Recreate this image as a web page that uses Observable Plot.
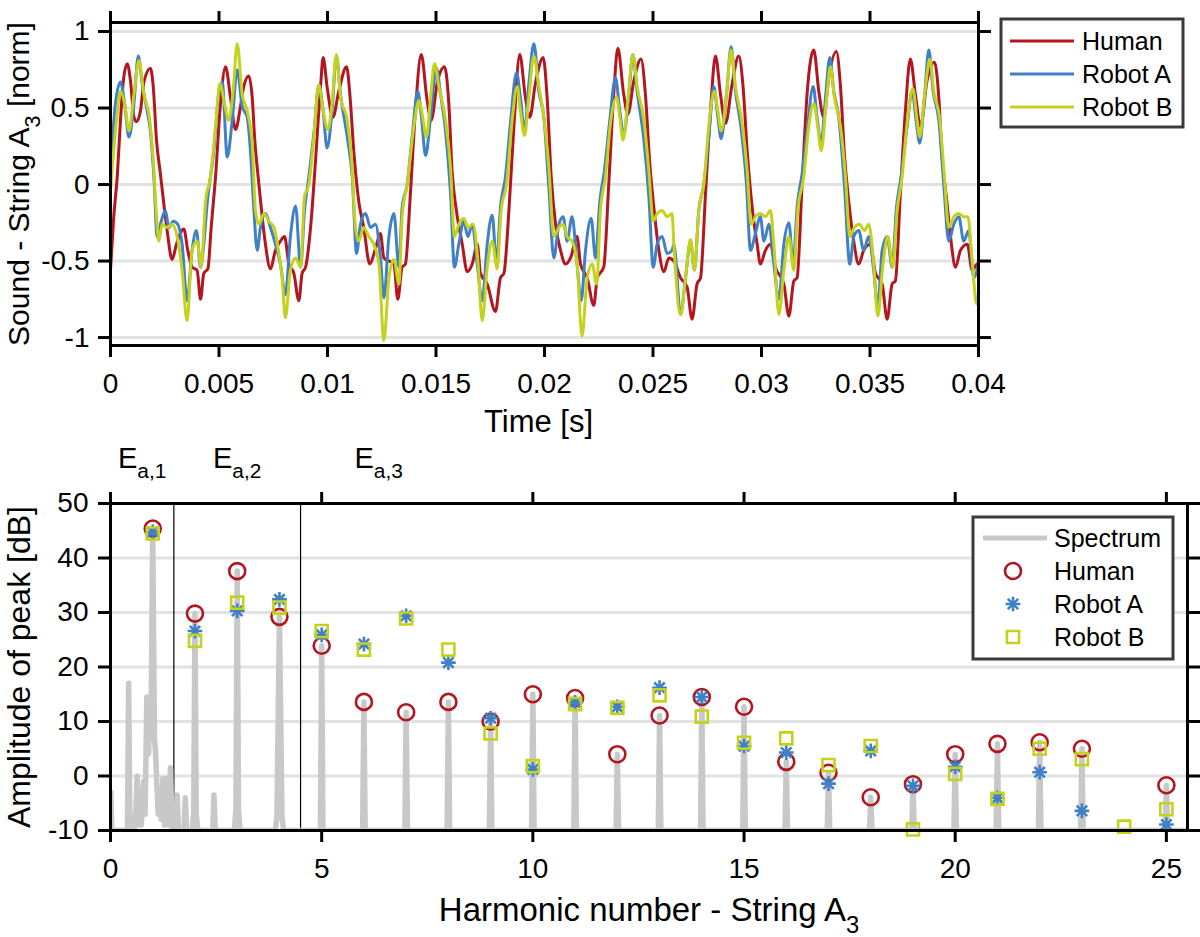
<!DOCTYPE html>
<html><head><meta charset="utf-8">
<script src="https://cdn.jsdelivr.net/npm/d3@7"></script>
<script src="https://cdn.jsdelivr.net/npm/@observablehq/plot@0.6"></script>
<style>
body{margin:0;background:#fff;font-family:"Liberation Sans",Arial,sans-serif;}
#wrap{position:relative;width:1200px;height:937px;overflow:hidden;background:#fff;}
#top,#bottom,#overlay{position:absolute;left:0;}
#top{top:0}
#bottom{top:440px}
#overlay{top:0;pointer-events:none}
</style></head>
<body><div id="wrap"><div id="top"></div><div id="bottom"></div><svg id="overlay" width="1200" height="937"></svg></div>
<script>
// ---------------- DATA ----------------
const seriesNames = ["Human", "Robot A", "Robot B"];

// Time-domain waveforms: [time in ms, normalised amplitude]
const humanWave = [[0,-0.56],[0.15,-0.21],[0.31,0.05],[0.46,0.42],[0.61,0.70],[0.77,0.79],[0.92,0.68],[1.08,0.44],[1.20,0.41],[1.38,0.48],[1.54,0.67],[1.84,0.76],[1.97,0.64],[2.12,0.29],[2.30,0.07],[2.46,-0.13],[2.61,-0.30],[2.84,-0.49],[3.04,-0.39],[3.38,-0.29],[3.56,-0.43],[3.76,-0.54],[3.99,-0.56],[4.15,-0.75],[4.30,-0.58],[4.49,-0.55],[4.64,-0.28],[4.84,0.05],[5.07,0.53],[5.30,0.77],[5.53,0.57],[5.76,0.36],[5.99,0.51],[6.14,0.64],[6.37,0.71],[6.53,0.57],[6.64,0.31],[6.84,0.00],[6.99,-0.21],[7.14,-0.39],[7.37,-0.55],[7.60,-0.43],[7.83,-0.37],[8.02,-0.34],[8.22,-0.52],[8.45,-0.58],[8.68,-0.76],[8.83,-0.58],[8.99,-0.54],[9.22,-0.28],[9.45,0.16],[9.68,0.64],[9.80,0.83],[9.98,0.64],[10.25,0.44],[10.52,0.61],[10.88,0.77],[11.03,0.59],[11.21,0.22],[11.44,-0.11],[11.67,-0.28],[11.95,-0.52],[12.21,-0.42],[12.44,-0.32],[12.60,-0.48],[13.06,-0.52],[13.24,-0.75],[13.44,-0.54],[13.59,-0.52],[13.82,-0.06],[14.05,0.48],[14.32,0.85],[14.59,0.55],[14.78,0.42],[15.05,0.66],[15.39,0.77],[15.59,0.53],[15.74,0.09],[15.94,-0.17],[16.21,-0.39],[16.44,-0.57],[16.67,-0.52],[16.90,-0.39],[17.05,-0.58],[17.36,-0.65],[17.74,-0.83],[17.97,-0.61],[18.13,-0.58],[18.36,-0.17],[18.59,0.38],[18.86,0.85],[19.12,0.57],[19.32,0.44],[19.58,0.66],[19.94,0.83],[20.12,0.57],[20.31,0.05],[20.51,-0.26],[20.74,-0.43],[20.97,-0.52],[21.20,-0.48],[21.50,-0.34],[21.66,-0.52],[21.97,-0.61],[22.27,-0.79],[22.43,-0.61],[22.73,-0.54],[22.96,0.00],[23.19,0.59],[23.38,0.89],[23.65,0.59],[23.84,0.46],[24.12,0.68],[24.45,0.82],[24.65,0.59],[24.85,0.14],[25.04,-0.15],[25.27,-0.43],[25.50,-0.57],[25.73,-0.48],[25.96,-0.50],[26.27,-0.61],[26.57,-0.67],[26.80,-0.88],[27.03,-0.65],[27.19,-0.61],[27.42,-0.06],[27.65,0.48],[27.88,0.84],[28.11,0.59],[28.34,0.40],[28.65,0.66],[28.95,0.84],[29.15,0.64],[29.34,0.22],[29.57,-0.15],[29.80,-0.39],[29.95,-0.52],[30.18,-0.43],[30.41,-0.39],[30.64,-0.54],[31.03,-0.65],[31.26,-0.86],[31.49,-0.63],[31.64,-0.61],[31.87,0.00],[32.10,0.59],[32.41,0.88],[32.64,0.61],[32.87,0.44],[33.10,0.70],[33.45,0.87],[33.64,0.64],[33.82,0.20],[34.02,-0.11],[34.25,-0.37],[34.48,-0.52],[34.71,-0.43],[35.02,-0.39],[35.25,-0.58],[35.56,-0.65],[35.79,-0.88],[36.02,-0.65],[36.17,-0.63],[36.40,-0.06],[36.63,0.48],[36.86,0.82],[37.09,0.59],[37.33,0.38],[37.63,0.68],[37.97,0.80],[38.17,0.57],[38.32,0.18],[38.52,-0.08],[38.71,-0.34],[38.94,-0.54],[39.17,-0.43],[39.48,-0.39],[39.71,-0.56],[39.94,-0.52],[40.00,-0.55]];

const robotAWave = [[0,0.11],[0.23,0.53],[0.46,0.67],[0.65,0.53],[0.85,0.31],[1.08,0.53],[1.28,0.84],[1.46,0.66],[1.69,0.48],[1.84,0.35],[2.00,0.05],[2.15,-0.34],[2.30,-0.26],[2.53,-0.17],[2.69,-0.28],[2.89,-0.24],[3.10,-0.26],[3.30,-0.39],[3.53,-0.76],[3.76,-0.43],[3.96,-0.30],[4.15,-0.54],[4.30,-0.39],[4.45,-0.13],[4.76,0.22],[4.99,0.59],[5.15,0.67],[5.38,0.18],[5.61,0.42],[5.84,0.75],[6.07,0.51],[6.30,0.44],[6.45,0.22],[6.61,-0.17],[6.76,-0.43],[6.91,-0.28],[7.14,-0.19],[7.37,-0.28],[7.60,-0.39],[7.83,-0.52],[8.06,-0.72],[8.29,-0.34],[8.53,-0.14],[8.76,-0.54],[8.94,-0.17],[9.14,0.05],[9.37,0.33],[9.60,0.65],[9.80,0.48],[9.98,0.24],[10.21,0.48],[10.41,0.84],[10.60,0.59],[10.91,0.31],[11.14,0.05],[11.34,-0.45],[11.52,-0.26],[11.75,-0.19],[11.98,-0.28],[12.21,-0.26],[12.44,-0.48],[12.60,-0.74],[12.83,-0.34],[13.06,-0.19],[13.29,-0.54],[13.44,-0.15],[13.67,0.00],[13.90,0.31],[14.16,0.61],[14.33,0.44],[14.52,0.19],[14.75,0.44],[15.02,0.76],[15.21,0.59],[15.44,0.35],[15.67,-0.06],[15.85,-0.54],[16.05,-0.39],[16.28,-0.24],[16.47,-0.34],[16.67,-0.26],[16.90,-0.52],[17.13,-0.76],[17.36,-0.39],[17.59,-0.20],[17.79,-0.52],[17.97,-0.15],[18.20,0.05],[18.43,0.40],[18.71,0.73],[18.89,0.57],[19.08,0.35],[19.28,0.66],[19.51,0.92],[19.74,0.61],[19.97,0.44],[20.20,-0.02],[20.43,-0.48],[20.66,-0.26],[20.86,-0.21],[21.04,-0.37],[21.27,-0.21],[21.50,-0.52],[21.69,-0.76],[21.89,-0.43],[22.15,-0.22],[22.35,-0.48],[22.55,-0.11],[22.76,0.09],[23.01,0.42],[23.27,0.70],[23.47,0.48],[23.65,0.33],[23.89,0.59],[24.07,0.85],[24.27,0.61],[24.58,0.29],[24.81,-0.08],[25.01,-0.54],[25.19,-0.39],[25.42,-0.34],[25.65,-0.45],[25.88,-0.43],[25.96,-0.39],[26.27,-0.85],[26.50,-0.61],[26.73,-0.37],[26.91,-0.56],[27.11,-0.17],[27.34,0.00],[27.57,0.31],[27.80,0.64],[27.99,0.44],[28.14,0.30],[28.39,0.59],[28.60,0.90],[28.80,0.61],[29.03,0.40],[29.31,0.00],[29.49,-0.43],[29.72,-0.32],[29.95,-0.21],[30.11,-0.37],[30.34,-0.26],[30.57,-0.52],[30.80,-0.75],[31.03,-0.39],[31.26,-0.25],[31.46,-0.52],[31.64,-0.15],[31.87,0.07],[32.10,0.35],[32.38,0.64],[32.56,0.44],[32.75,0.27],[32.95,0.57],[33.15,0.83],[33.33,0.61],[33.56,0.44],[33.82,0.00],[34.07,-0.52],[34.25,-0.34],[34.48,-0.30],[34.71,-0.43],[34.94,-0.34],[35.17,-0.56],[35.36,-0.80],[35.56,-0.43],[35.79,-0.34],[36.02,-0.54],[36.22,-0.15],[36.43,0.05],[36.71,0.38],[36.94,0.61],[37.14,0.40],[37.29,0.27],[37.52,0.59],[37.71,0.88],[37.91,0.61],[38.17,0.42],[38.40,0.00],[38.63,-0.37],[38.86,-0.26],[39.09,-0.21],[39.32,-0.37],[39.55,-0.30],[39.78,-0.61],[40.00,-0.52]];

const robotBWave = [[0,-0.04],[0.23,0.35],[0.46,0.61],[0.65,0.53],[0.85,0.35],[1.08,0.59],[1.31,0.81],[1.54,0.59],[1.81,0.42],[1.97,0.16],[2.12,-0.21],[2.23,-0.37],[2.38,-0.26],[2.61,-0.28],[2.84,-0.26],[3.07,-0.34],[3.30,-0.56],[3.53,-0.89],[3.76,-0.43],[3.99,-0.37],[4.18,-0.54],[4.38,-0.11],[4.61,0.05],[4.84,0.38],[5.04,0.66],[5.25,0.53],[5.45,0.42],[5.65,0.61],[5.84,0.92],[6.07,0.59],[6.30,0.48],[6.53,0.27],[6.68,-0.17],[6.84,-0.26],[7.07,-0.19],[7.30,-0.24],[7.53,-0.28],[7.76,-0.45],[7.91,-0.61],[8.06,-0.87],[8.29,-0.56],[8.53,-0.48],[8.76,-0.54],[8.94,-0.08],[9.14,0.00],[9.37,0.31],[9.60,0.65],[9.80,0.48],[10.02,0.36],[10.21,0.53],[10.41,0.85],[10.60,0.57],[10.91,0.42],[11.09,0.20],[11.29,-0.28],[11.44,-0.37],[11.67,-0.28],[11.90,-0.34],[12.13,-0.39],[12.37,-0.52],[12.60,-1.02],[12.83,-0.61],[13.06,-0.49],[13.29,-0.65],[13.44,-0.21],[13.67,0.00],[13.98,0.38],[14.21,0.55],[14.36,0.46],[14.56,0.31],[14.75,0.57],[14.93,0.79],[15.13,0.64],[15.44,0.42],[15.67,0.11],[15.85,-0.34],[16.05,-0.26],[16.28,-0.22],[16.47,-0.28],[16.71,-0.26],[16.93,-0.50],[17.13,-0.89],[17.36,-0.54],[17.59,-0.37],[17.82,-0.55],[18.00,-0.17],[18.25,0.00],[18.51,0.42],[18.74,0.64],[18.89,0.48],[19.08,0.32],[19.28,0.57],[19.51,0.84],[19.74,0.64],[19.97,0.44],[20.20,0.11],[20.43,-0.34],[20.66,-0.28],[20.86,-0.26],[21.04,-0.34],[21.27,-0.37],[21.50,-0.52],[21.73,-0.99],[21.97,-0.61],[22.20,-0.52],[22.40,-0.65],[22.58,-0.17],[22.81,0.05],[23.04,0.40],[23.32,0.57],[23.47,0.44],[23.62,0.29],[23.84,0.55],[24.08,0.85],[24.27,0.64],[24.58,0.42],[24.81,0.09],[25.01,-0.24],[25.19,-0.19],[25.42,-0.17],[25.65,-0.21],[25.88,-0.19],[25.96,-0.39],[26.27,-0.85],[26.50,-0.61],[26.73,-0.36],[26.91,-0.56],[27.11,-0.17],[27.34,0.00],[27.57,0.38],[27.83,0.61],[27.99,0.48],[28.14,0.35],[28.39,0.59],[28.60,0.88],[28.80,0.64],[29.11,0.40],[29.34,0.09],[29.52,-0.26],[29.72,-0.21],[29.95,-0.19],[30.18,-0.21],[30.41,-0.17],[30.57,-0.39],[30.80,-0.85],[31.03,-0.56],[31.26,-0.34],[31.49,-0.56],[31.67,-0.17],[31.95,0.05],[32.18,0.38],[32.41,0.53],[32.59,0.38],[32.75,0.22],[32.98,0.53],[33.18,0.77],[33.36,0.57],[33.64,0.38],[33.87,0.05],[34.07,-0.34],[34.28,-0.28],[34.51,-0.26],[34.74,-0.30],[34.94,-0.26],[35.17,-0.52],[35.36,-0.86],[35.60,-0.52],[35.82,-0.34],[36.05,-0.54],[36.25,-0.17],[36.48,0.05],[36.74,0.44],[36.97,0.63],[37.17,0.42],[37.29,0.31],[37.52,0.59],[37.76,0.82],[37.94,0.61],[38.22,0.42],[38.43,0.05],[38.63,-0.28],[38.86,-0.21],[39.09,-0.19],[39.32,-0.21],[39.51,-0.21],[39.71,-0.50],[39.91,-0.78],[40.00,-0.70]];

const timeTicks = [0, 0.005, 0.01, 0.015, 0.02, 0.025, 0.03, 0.035, 0.04];
const soundTicks = [-1, -0.5, 0, 0.5, 1];

// Spectrum (harmonic number, dB)
const spectrumLow = [[0,-10],[0.01,-3],[0.03,-10],[0.40,-10],[0.43,17],[0.46,-10],[0.56,-10],[0.60,-6],[0.63,0],[0.66,-9],[0.70,-5],[0.73,-9],[0.78,-1],[0.82,-7],[0.86,14.5],[0.90,4],[0.93,11],[0.96,8],[1.00,45],[1.04,7],[1.07,4],[1.10,-2],[1.13,-7],[1.16,-3],[1.20,-8],[1.24,-0.5],[1.28,-9],[1.32,-0.5],[1.36,-9],[1.42,1.5],[1.46,-10],[1.55,-10],[1.58,-3.5],[1.61,-10],[1.74,-10],[1.77,-4],[1.80,-10],[1.93,-10],[1.97,-7],[2.00,29.8],[2.03,-7],[2.07,-10],[2.42,-10],[2.45,-3.5],[2.48,-10],[2.93,-10],[2.97,-6],[3.00,37.6],[3.03,-6],[3.07,-10],[3.90,-10],[3.94,-7.5],[4.00,29.2],[4.06,-7.5],[4.10,-10]];
const spectrumHigh = [[4.97,-10],[5,23.9],[5.03,-10],[5.97,-10],[6,13.6],[6.03,-10],[6.97,-10],[7,11.7],[7.03,-10],[7.97,-10],[8,13.6],[8.03,-10],[8.97,-10],[9,10.0],[9.03,-10],[9.97,-10],[10,15.0],[10.03,-10],[10.97,-10],[11,14.3],[11.03,-10],[11.97,-10],[12,4.0],[12.03,-10],[12.97,-10],[13,11.1],[13.03,-10],[13.97,-10],[14,14.5],[14.03,-10],[14.97,-10],[15,12.7],[15.03,-10],[15.97,-10],[16,2.6],[16.03,-10],[16.97,-10],[17,0.6],[17.03,-10],[17.97,-10],[18,-3.9],[18.03,-10],[18.97,-10],[19,-1.5],[19.03,-10],[19.97,-10],[20,4.0],[20.03,-10],[20.97,-10],[21,5.9],[21.03,-10],[21.97,-10],[22,6.2],[22.03,-10],[22.97,-10],[23,5.0],[23.03,-10],[24.97,-10],[25,-1.7],[25.03,-10],[25.5,-10]];

const harmonics = [1,2,3,4,5,6,7,8,9,10,11,12,13,14,15,16,17,18,19,20,21,22,23,24,25];
const humanDb  = [45.4,29.8,37.6,29.2,23.9,13.6,11.7,13.6,10.0,15.0,14.3,4.0,11.1,14.5,12.7,2.6,0.6,-3.9,-1.5,4.0,5.9,6.2,5.0,null,-1.7];
const robotADb = [44.8,26.6,30.3,32.4,25.9,24.2,29.4,20.8,10.6,1.2,13.5,12.7,16.2,14.5,5.5,4.3,-1.4,4.6,-1.8,1.7,-4.0,0.7,-6.4,null,-8.9];
const robotBDb = [44.5,24.8,31.8,30.9,26.6,23.2,28.9,23.2,7.8,1.8,13.2,12.5,14.8,10.9,6.1,6.9,2.0,5.5,-9.8,0.4,-4.2,5.0,3.1,-9.3,-6.1];

const harmonicTicks = [0, 5, 10, 15, 20, 25];
const dbTicks = [-10, 0, 10, 20, 30, 40, 50];
const dbGrid = [0, 10, 20, 30, 40];
const regionBounds = [1.5, 4.5];
const regionLabels = ["E_{a,1}", "E_{a,2}", "E_{a,3}"];
const regionLabelX = [0.75, 3, 6.35];

// ---------------- STYLE ----------------
const RED = "#b3161e", BLUE = "#3f80c6", YEL = "#c5d21d", GREY = "#c8c8c8", GRID = "#e2e2e2";
const colors = [RED, BLUE, YEL];
const FONT = "'Liberation Sans', Arial, Helvetica, sans-serif";
const TICKFS = 28;
const R_CIRC = 8, R_STAR = 4.8, R_SQ = 6.8, MSW = 2.6;

const waveData = [humanWave, robotAWave, robotBWave].flatMap((w, k) =>
  w.map(([ms, v]) => ({t: ms / 1000, v, series: seriesNames[k]})));

const topPlot = Plot.plot({
  width: 1200, height: 440,
  marginTop: 22, marginBottom: 95, marginLeft: 110, marginRight: 222,
  style: {fontFamily: FONT, fontSize: TICKFS + "px", color: "black", background: "transparent", overflow: "visible"},
  x: {domain: [0, 0.04]},
  y: {domain: [-1.052, 1.059]},
  color: {domain: seriesNames, range: colors},
  marks: [
    Plot.gridY(soundTicks, {stroke: GRID, strokeOpacity: 1, strokeWidth: 3}),
    Plot.line(waveData, {x: "t", y: "v", z: "series", stroke: "series", strokeWidth: 3, curve: "monotone-x"}),
    Plot.frame({stroke: "black", strokeWidth: 3}),
    Plot.axisX(timeTicks, {anchor: "bottom", tickSize: 12, tickPadding: 16, strokeWidth: 3, fontSize: TICKFS, tickFormat: d => String(d), label: null}),
    Plot.axisX(timeTicks, {anchor: "top", tickSize: 12, strokeWidth: 3, tickFormat: () => "", label: null}),
    Plot.axisY(soundTicks, {anchor: "left", tickSize: 12, tickPadding: 9, strokeWidth: 3, fontSize: TICKFS, tickFormat: d => String(d), label: null}),
    Plot.axisY(soundTicks, {anchor: "right", tickSize: 12, strokeWidth: 3, tickFormat: () => "", label: null}),
    Plot.text(["Time [s]"], {frameAnchor: "bottom", lineAnchor: "middle", textAnchor: "middle", dy: 77, dx: -6, fontSize: 31, text: d => d}),
    Plot.text(["Sound - String A_{3} [norm]"], {frameAnchor: "left", lineAnchor: "middle", textAnchor: "middle", rotate: -90, dx: -91, fontSize: 30, text: d => d})
  ]
});

const mk = arr => harmonics.map((h, i) => ({h, db: arr[i]})).filter(d => d.db != null);
const spectrum = spectrumLow.concat(spectrumHigh).map(([h, db]) => ({h, db}));

const bottomPlot = Plot.plot({
  width: 1200, height: 497,
  marginTop: 63, marginBottom: 107, marginLeft: 110, marginRight: 13,
  style: {fontFamily: FONT, fontSize: TICKFS + "px", color: "black", background: "transparent", overflow: "visible"},
  x: {domain: [0, 25.5]},
  y: {domain: [-10, 50]},
  marks: [
    Plot.gridY(dbGrid, {stroke: GRID, strokeOpacity: 1, strokeWidth: 3}),
    Plot.ruleX(regionBounds, {stroke: "black", strokeWidth: 1.2}),
    Plot.line(spectrum, {x: "h", y: "db", stroke: GREY, strokeWidth: 5.5, clip: true}),
    Plot.dot(mk(humanDb), {x: "h", y: "db", symbol: "circle", r: R_CIRC, stroke: RED, strokeWidth: MSW, fill: "none"}),
    Plot.dot(mk(robotADb), {x: "h", y: "db", symbol: "plus", r: R_STAR, stroke: BLUE, strokeWidth: MSW}),
    Plot.dot(mk(robotADb), {x: "h", y: "db", symbol: "times", r: R_STAR, stroke: BLUE, strokeWidth: MSW}),
    Plot.dot(mk(robotBDb), {x: "h", y: "db", symbol: "square", r: R_SQ, stroke: YEL, strokeWidth: MSW, fill: "none"}),
    Plot.frame({stroke: "black", strokeWidth: 3}),
    Plot.axisX(harmonicTicks, {anchor: "bottom", tickSize: 12, tickPadding: 16, strokeWidth: 3, fontSize: TICKFS, tickFormat: d => String(d), label: null}),
    Plot.axisX(harmonicTicks, {anchor: "top", tickSize: 12, strokeWidth: 3, tickFormat: () => "", label: null}),
    Plot.axisY(dbTicks, {anchor: "left", tickSize: 12, tickPadding: 10, strokeWidth: 3, fontSize: TICKFS, tickFormat: d => String(d), label: null}),
    Plot.axisY(dbTicks, {anchor: "right", tickSize: 12, strokeWidth: 3, tickFormat: () => "", label: null}),
    Plot.text(regionLabels, {x: (d, i) => regionLabelX[i], text: d => d, frameAnchor: "top", lineAnchor: "middle", textAnchor: "middle", dy: -45, fontSize: 29}),
    Plot.text(["Harmonic number - String A_{3}"], {frameAnchor: "bottom", lineAnchor: "middle", textAnchor: "middle", dy: 80, fontSize: 33, text: d => d}),
    Plot.text(["Amplitude of peak [dB]"], {frameAnchor: "left", lineAnchor: "middle", textAnchor: "middle", rotate: -90, dx: -91, fontSize: 32, text: d => d})
  ]
});

document.getElementById("top").appendChild(topPlot);
document.getElementById("bottom").appendChild(bottomPlot);

function subscripts(svg) {
  const ns = "http://www.w3.org/2000/svg";
  svg.querySelectorAll("text").forEach(t => {
    if (t.children.length) return;
    const m = t.textContent.match(/^(.*?)_\{(.+?)\}(.*)$/);
    if (!m) return;
    const fs = parseFloat(getComputedStyle(t).fontSize) || 25;
    t.textContent = "";
    t.appendChild(document.createTextNode(m[1]));
    const sub = document.createElementNS(ns, "tspan");
    sub.setAttribute("font-size", (fs * 0.72) + "px");
    sub.setAttribute("dy", (fs * 0.36) + "px");
    sub.textContent = m[2];
    t.appendChild(sub);
    if (m[3]) {
      const rest = document.createElementNS(ns, "tspan");
      rest.setAttribute("dy", (-fs * 0.36) + "px");
      rest.textContent = m[3];
      t.appendChild(rest);
    }
  });
}
subscripts(topPlot);
subscripts(bottomPlot);

// ---------------- LEGENDS ----------------
const ov = d3.select("#overlay").style("font-family", FONT);
const LFS = 25;
// top legend
const l1 = ov.append("g");
l1.append("rect").attr("x", 1001).attr("y", 19).attr("width", 182).attr("height", 108)
  .attr("fill", "white").attr("stroke", "#3a3a3a").attr("stroke-width", 3);
seriesNames.forEach((name, i) => {
  const y = 41 + i * 33;
  l1.append("line").attr("x1", 1010).attr("x2", 1074).attr("y1", y).attr("y2", y)
    .attr("stroke", colors[i]).attr("stroke-width", 3);
  l1.append("text").attr("x", 1082).attr("y", y).attr("dy", "0.35em").attr("font-size", LFS).text(name);
});
// bottom legend
const l2 = ov.append("g");
l2.append("rect").attr("x", 973).attr("y", 517).attr("width", 200).attr("height", 142)
  .attr("fill", "white").attr("stroke", "#3a3a3a").attr("stroke-width", 3);
const rows = ["Spectrum"].concat(seriesNames);
rows.forEach((name, i) => {
  const y = 538 + i * 33;
  l2.append("text").attr("x", 1054).attr("y", y).attr("dy", "0.35em").attr("font-size", LFS).text(name);
});
l2.append("line").attr("x1", 983).attr("x2", 1047).attr("y1", 538).attr("y2", 538).attr("stroke", GREY).attr("stroke-width", 5);
const sym = (type, r) => d3.symbol().type(type).size(Math.PI * r * r)();
l2.append("path").attr("d", sym(d3.symbolCircle, R_CIRC)).attr("transform", "translate(1013,571)").attr("fill", "none").attr("stroke", RED).attr("stroke-width", MSW);
l2.append("path").attr("d", sym(d3.symbolPlus, R_STAR)).attr("transform", "translate(1013,604)").attr("fill", "none").attr("stroke", BLUE).attr("stroke-width", MSW);
l2.append("path").attr("d", sym(d3.symbolTimes, R_STAR)).attr("transform", "translate(1013,604)").attr("fill", "none").attr("stroke", BLUE).attr("stroke-width", MSW);
l2.append("path").attr("d", sym(d3.symbolSquare, R_SQ)).attr("transform", "translate(1013,637)").attr("fill", "none").attr("stroke", YEL).attr("stroke-width", MSW);
</script></body></html>
